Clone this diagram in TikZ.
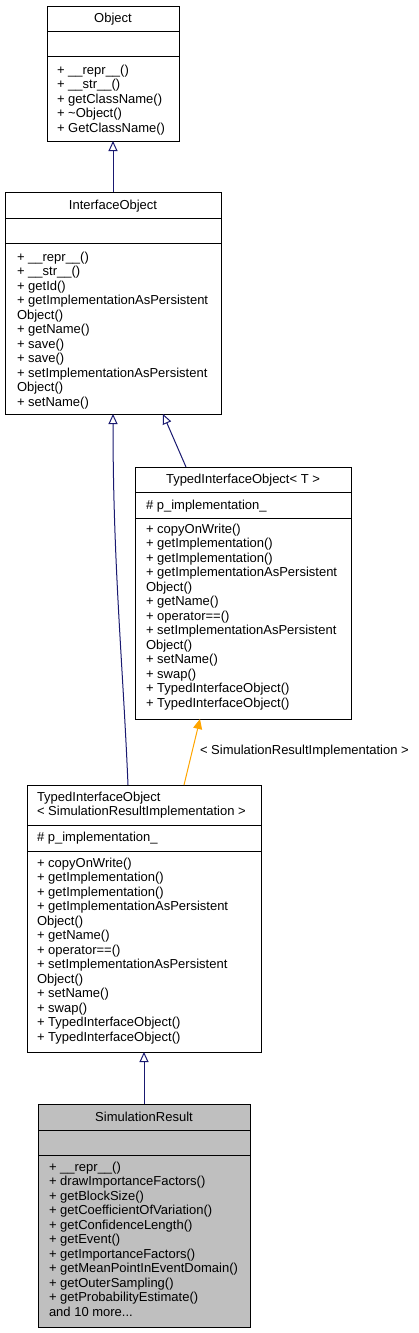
\documentclass[tikz,border=0pt]{standalone}
\usepackage{fontspec}
\setmainfont{Liberation Sans}
\usetikzlibrary{arrows.meta}
\definecolor{edgeblue}{HTML}{191970}
\definecolor{edgeorange}{HTML}{FFA500}
\definecolor{boxgray}{HTML}{BFBFBF}
\begin{document}
\begin{tikzpicture}[x=1pt,y=-1pt,
  classbox/.style={draw=black, line width=1pt, inner sep=0pt, outer sep=0pt, anchor=north west},
  sepline/.style={draw=black, line width=1pt},
  txt/.style={font=\fontsize{13}{14.5}\selectfont, inner sep=0pt, outer sep=0pt, align=left, anchor=north west},
  ttl/.style={font=\fontsize{13}{14.5}\selectfont, inner sep=0pt, outer sep=0pt, anchor=base},
  inherit/.style={draw=edgeblue, line width=1pt, -{Triangle[open, length=10pt, width=9pt]}},
  templ/.style={draw=edgeorange, line width=1pt, -{Triangle[length=10pt, width=9pt, fill=edgeorange]}},
]
\useasboundingbox (0,0) rectangle (419,1333);

% Object
\node[classbox, minimum width=132pt, minimum height=135pt] (obj) at (47,6) {};
\draw[sepline] (47,31) -- (179,31);
\draw[sepline] (47,56) -- (179,56);
\node[ttl] (objT) at (113,23) {Object};
\node[txt] (objM) at (57,65) {+ \_\_repr\_\_()\\+ \_\_str\_\_()\\+ getClassName()\\+ \textasciitilde Object()\\+ GetClassName()};

% InterfaceObject
\node[classbox, minimum width=216pt, minimum height=222pt] (ifo) at (5,192) {};
\draw[sepline] (5,218) -- (221,218);
\draw[sepline] (5,243) -- (221,243);
\node[ttl] (ifoT) at (113,209.5) {InterfaceObject};
\node[txt] (ifoM) at (17,252) {+ \_\_repr\_\_()\\+ \_\_str\_\_()\\+ getId()\\+ getImplementationAsPersistent\\Object()\\+ getName()\\+ save()\\+ save()\\+ setImplementationAsPersistent\\Object()\\+ setName()};

% TypedInterfaceObject< T >
\node[classbox, minimum width=216pt, minimum height=252pt] (tio) at (135,467) {};
\draw[sepline] (135,492) -- (351,492);
\draw[sepline] (135,518) -- (351,518);
\node[ttl] (tioT) at (243,483.5) {TypedInterfaceObject< T >};
\node[txt] (tioA) at (146,500) {\# p\_implementation\_};
\node[txt] (tioM) at (146,524) {+ copyOnWrite()\\+ getImplementation()\\+ getImplementation()\\+ getImplementationAsPersistent\\Object()\\+ getName()\\+ operator==()\\+ setImplementationAsPersistent\\Object()\\+ setName()\\+ swap()\\+ TypedInterfaceObject()\\+ TypedInterfaceObject()};

% TypedInterfaceObject< SimulationResultImplementation >
\node[classbox, minimum width=234pt, minimum height=267pt] (tsri) at (27,785) {};
\draw[sepline] (27,825) -- (261,825);
\draw[sepline] (27,851) -- (261,851);
\node[txt] (tsriT) at (37,792) {TypedInterfaceObject\\< SimulationResultImplementation >};
\node[txt] (tsriA) at (37,832) {\# p\_implementation\_};
\node[txt] (tsriM) at (37,858) {+ copyOnWrite()\\+ getImplementation()\\+ getImplementation()\\+ getImplementationAsPersistent\\Object()\\+ getName()\\+ operator==()\\+ setImplementationAsPersistent\\Object()\\+ setName()\\+ swap()\\+ TypedInterfaceObject()\\+ TypedInterfaceObject()};

% SimulationResult
\node[classbox, fill=boxgray, minimum width=212pt, minimum height=223pt] (sr) at (38,1104) {};
\draw[sepline] (38,1130) -- (250,1130);
\draw[sepline] (38,1155) -- (250,1155);
\node[ttl] (srT) at (144,1121.5) {SimulationResult};
\node[txt] (srM) at (49,1162) {+ \_\_repr\_\_()\\+ drawImportanceFactors()\\+ getBlockSize()\\+ getCoefficientOfVariation()\\+ getConfidenceLength()\\+ getEvent()\\+ getImportanceFactors()\\+ getMeanPointInEventDomain()\\+ getOuterSampling()\\+ getProbabilityEstimate()\\and 10 more...};

% Connectors
\draw[inherit] (ifo.north) -- (obj.south);
\draw[inherit] ([xshift=51pt]tio.north west) -- ([xshift=158pt]ifo.south west);
\draw[inherit] ([xshift=101pt]tsri.north west) .. controls ([xshift=96pt,yshift=120pt]tsri.north west) and ([xshift=108pt,yshift=-150pt]ifo.south west) .. ([xshift=108pt]ifo.south west);
\draw[templ] ([xshift=157pt]tsri.north west) -- ([xshift=65pt]tio.south west);
\node[txt, anchor=west] (lbl) at (200,751) {< SimulationResultImplementation >};
\draw[inherit] (sr.north) -- (tsri.south);
\end{tikzpicture}
\end{document}
